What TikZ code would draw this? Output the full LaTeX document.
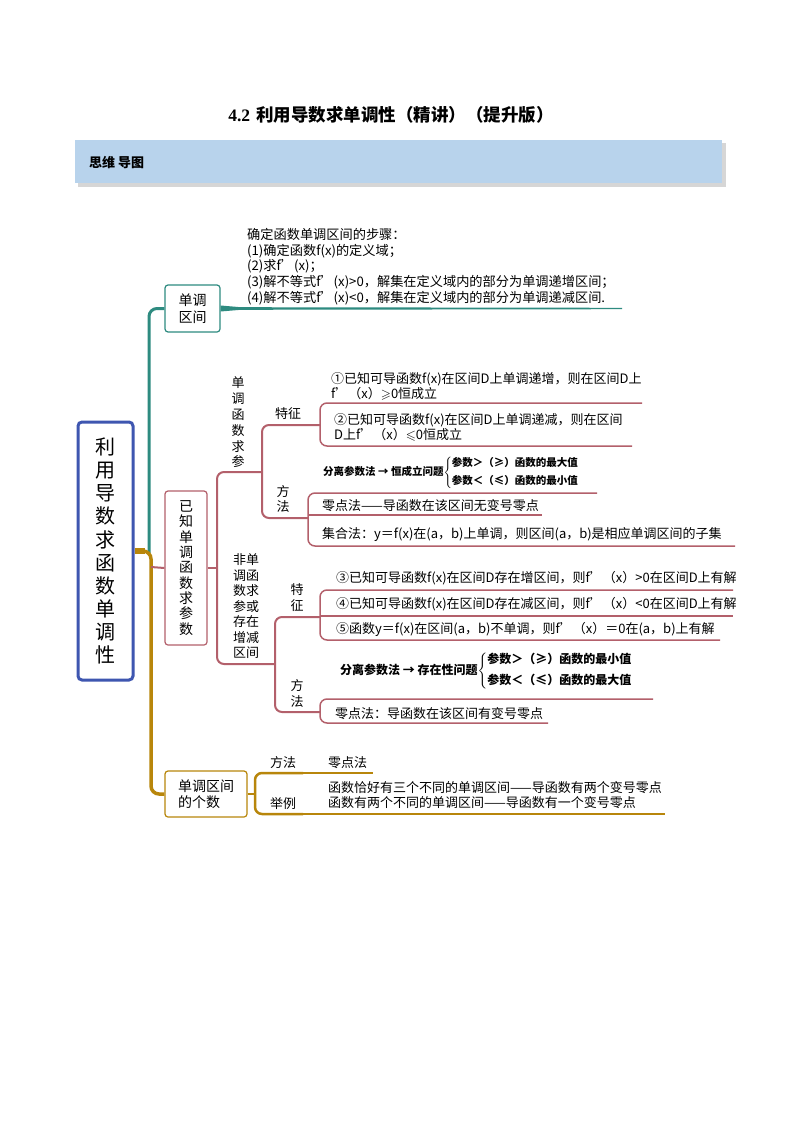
\documentclass[tikz,border=0pt]{standalone}
\usepackage{amssymb}
\usepackage{fontspec}
\setmainfont{Noto Sans CJK SC}
\newfontfamily\serifnum{Liberation Serif}
\definecolor{tealc}{HTML}{2E8B80}
\definecolor{goldc}{HTML}{B8860B}
\definecolor{pinkc}{HTML}{B3606B}
\definecolor{rootblue}{HTML}{3E56B0}
\definecolor{bannerc}{HTML}{B8D3EC}
\newcommand\myfs[2]{\fontsize{#1}{#2}\selectfont}
\begin{document}
\begin{tikzpicture}[x=1pt,y=-1pt,
  txt/.style={inner sep=0pt,anchor=west,align=left,font=\myfs{12.5}{15.5}},
  ctxt/.style={inner sep=0pt,align=center,font=\myfs{13}{15.5}},
  boxbase/.style={draw,rounded corners=3pt,line width=1.2pt,inner sep=0pt,align=center},
  pinkline/.style={draw=pinkc,line width=2pt},
  pinkthin/.style={draw=pinkc,line width=1.5pt},
  goldline/.style={draw=goldc,line width=2pt},
  brace/.style={inner sep=0pt,anchor=west,font=\bfseries}
]
\useasboundingbox (0,0) rectangle (794,1123);
\fill[white] (0,0) rectangle (794,1123);
% title
\node[inner sep=0pt,font=\myfs{17.5}{19}\bfseries] (title) at (391,115) {{\serifnum 4.2}\hspace{6pt}利用导数求单调性（精讲）（提升版）};
% banner
\fill[black!35,opacity=.45] (78,143.5) rectangle (725.5,187);
\node[fill=bannerc,minimum width=647,minimum height=43,inner sep=0pt] (banner) at (398.5,161.5) {};
\node[inner sep=0pt,anchor=west,font=\myfs{13}{15}\bfseries] (bannertxt) at (89,163) {思维\hspace{3pt}导图};

% root and boxes
\node[boxbase,draw=rootblue,line width=3pt,rounded corners=4pt,minimum width=55,minimum height=258,font=\myfs{20}{23.1}] (root) at (105.5,551) {利\\用\\导\\数\\求\\函\\数\\单\\调\\性};
\node[boxbase,draw=tealc,minimum width=55,minimum height=47,font=\myfs{14}{16.5}] (box1) at (192.5,308.5) {单调\\区间};
\node[boxbase,draw=pinkc,minimum width=42,minimum height=154,font=\myfs{14}{15.3}] (box2) at (186,568) {已\\知\\单\\调\\函\\数\\求\\参\\数};
\node[boxbase,draw=goldc,minimum width=82,minimum height=46,align=left,font=\myfs{14}{15.5}] (box3) at (206,794) {单调区间\\的个数};

% trunk
\coordinate (tj) at (149,553);
\draw[tealc,line width=3pt,rounded corners=8pt] (tj) -- (149,308.5) -- (box1.west);
\draw[goldc,line width=6pt] (root.east) -- (145,551);
\draw[goldc,line width=3.5pt,rounded corners=8pt] (140,551) -- (151,551) -- (151,794) -- (box3.west);
\draw[pinkline] (151,567) -- (box2.west);

% teal long tapered line
\coordinate (tend) at (622,308.5);
\fill[tealc] ([yshift=3pt]box1.east) -- ([xshift=20pt,yshift=1.3pt]box1.east) -- ([yshift=0.7pt]tend) -- ([yshift=-0.7pt]tend) -- ([xshift=20pt,yshift=-1.3pt]box1.east) -- ([yshift=-3pt]box1.east) -- cycle;
\node[txt,font=\myfs{13.2}{15.7}] (steps) at (247,266.5) {确定函数单调区间的步骤：\\(1)确定函数f(x)的定义域；\\(2)求f’(x)；\\(3)解不等式f’(x)>0，解集在定义域内的部分为单调递增区间；\\(4)解不等式f’(x)<0，解集在定义域内的部分为单调递减区间.};

% pink bracket A
\coordinate (aj) at (217,568);
\coordinate (bj) at (262,472);
\coordinate (ej) at (275,664);
\draw[pinkline] (box2.east) -- (aj);
\draw[pinkline,rounded corners=7pt] (bj) -- (217,472) -- (217,664) -- (ej);
\node[ctxt,font=\myfs{13}{15.8}] (mono) at (238,422.5) {单\\调\\函\\数\\求\\参};
\node[ctxt,font=\myfs{13}{15.5}] (nonmono) at (246,606.5) {非单\\调函\\数求\\参或\\存在\\增减\\区间};

% bracket B
\coordinate (cj) at (320,425);
\coordinate (dj) at (308,518);
\draw[pinkline,rounded corners=7pt] (cj) -- (262,425) -- (262,518) -- (dj);
\node[ctxt] (tz1) at (288,414) {特征};
\node[ctxt] (ff1) at (283,499) {方\\法};

% bracket C
\coordinate (c1) at (642,403);
\coordinate (c2) at (632,446);
\draw[pinkthin,rounded corners=7pt] (c1) -- (320,403) -- (320,446) -- (c2);
\node[txt,font=\myfs{13}{15}] (i1) at (331,386.5) {①已知可导函数f(x)在区间D上单调递增，则在区间D上\\f’（x）$\geqslant$0恒成立};
\node[txt,font=\myfs{13}{15}] (i2) at (334,427.5) {②已知可导函数f(x)在区间D上单调递减，则在区间\\D上f’（x）$\leqslant$0恒成立};

% bracket D
\coordinate (d1) at (597,493);
\coordinate (d2) at (542,515);
\coordinate (d3) at (735,546);
\draw[pinkthin,rounded corners=7pt] (d1) -- (308,493) -- (308,546) -- (d3);
\draw[pinkthin] (308,515) -- (d2);
\node[brace,font=\myfs{10.5}{12}\bfseries] (sep1) at (323,473) {分离参数法 → 恒成立问题$\left\{\begin{tabular}{@{}l@{}}参数＞（≥）函数的最大值\\[5pt]参数＜（≤）函数的最小值\end{tabular}\right.$};
\node[txt,font=\myfs{13}{15}] (zero1) at (322,506) {零点法——导函数在该区间无变号零点};
\node[txt,font=\myfs{13}{15}] (set1) at (322,535) {集合法：y＝f(x)在(a，b)上单调，则区间(a，b)是相应单调区间的子集};

% bracket E
\coordinate (fj) at (320,617);
\coordinate (gj) at (320,712);
\draw[pinkline,rounded corners=7pt] (fj) -- (275,617) -- (275,712) -- (gj);
\node[ctxt] (tz2) at (297,597.5) {特\\征};
\node[ctxt] (ff2) at (297,693.5) {方\\法};

% bracket F
\coordinate (f1) at (733,590);
\coordinate (f2) at (733,616);
\coordinate (f3) at (720,640);
\draw[pinkthin,rounded corners=7pt] (f1) -- (320,590) -- (320,640) -- (f3);
\draw[pinkthin] (320,616) -- (f2);
\node[txt,font=\myfs{13}{15}] (i3) at (336,578) {③已知可导函数f(x)在区间D存在增区间，则f’（x）>0在区间D上有解};
\node[txt,font=\myfs{13}{15}] (i4) at (336,604) {④已知可导函数f(x)在区间D存在减区间，则f’（x）<0在区间D上有解};
\node[txt,font=\myfs{13}{15}] (i5) at (336,629) {⑤函数y＝f(x)在区间(a，b)不单调，则f’（x）＝0在(a，b)上有解};

% bracket G
\coordinate (g1) at (653,699);
\coordinate (g2) at (548,723);
\draw[pinkthin,rounded corners=7pt] (g1) -- (320,699) -- (320,723) -- (g2);
\node[brace,font=\myfs{12}{13.5}\bfseries] (sep2) at (340,671) {分离参数法 → 存在性问题$\left\{\begin{tabular}{@{}l@{}}参数＞（≥）函数的最小值\\[6pt]参数＜（≤）函数的最大值\end{tabular}\right.$};
\node[txt,font=\myfs{13}{15}] (zero2) at (335,714) {零点法：导函数在该区间有变号零点};

% gold bracket H
\coordinate (hj) at (255,794);
\coordinate (h1) at (373,773);
\coordinate (h2) at (665,814);
\draw[goldline] (box3.east) -- (hj);
\draw[goldline,line width=2.5pt,rounded corners=7pt] (303,773) -- (255,773) -- (255,814) -- (303,814);
\draw[goldline,line width=1.4pt] (303,773) -- (h1);
\draw[goldline,line width=1.4pt] (303,814) -- (h2);
\node[ctxt] (ff3) at (283,763) {方法};
\node[txt,font=\myfs{13}{15}] (zero3) at (328,763) {零点法};
\node[ctxt] (jl) at (283,804) {举例};
\node[txt,font=\myfs{13}{15.8}] (ex) at (328,795) {函数恰好有三个不同的单调区间——导函数有两个变号零点\\函数有两个不同的单调区间——导函数有一个变号零点};
\end{tikzpicture}
\end{document}
